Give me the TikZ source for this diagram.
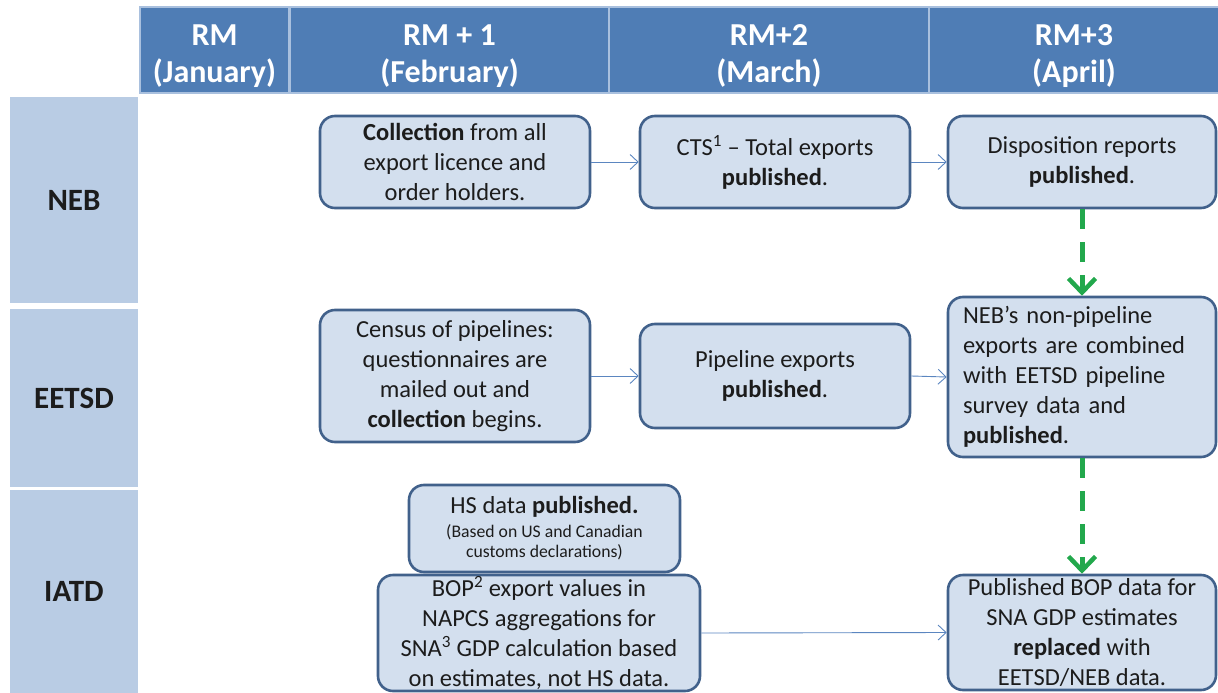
\documentclass[tikz,border=0pt]{standalone}
\usepackage{fontspec}
\setmainfont{Carlito}
\usetikzlibrary{arrows.meta}
\definecolor{hdr}{HTML}{4F7DB5}
\definecolor{hdrline}{HTML}{A9C0DE}
\definecolor{sidefill}{HTML}{B9CCE4}
\definecolor{boxfill}{HTML}{D3DFEE}
\definecolor{boxline}{HTML}{41618B}
\definecolor{txt}{HTML}{1C1C1C}
\definecolor{flow}{HTML}{5B86C0}
\definecolor{grn}{HTML}{22A84C}
\newcommand{\hstrut}{\rule{0pt}{33pt}}
\begin{document}
\begin{tikzpicture}[x=1pt,y=-1pt,
  hdrcell/.style={draw=hdrline,line width=1.5pt,fill=hdr,text=white,inner sep=0pt,
    align=center,font=\fontsize{32}{37}\selectfont\bfseries},
  sidecell/.style={fill=sidefill,text=txt,inner sep=0pt,minimum width=128pt,
    font=\fontsize{31}{34}\selectfont\bfseries},
  procbox/.style={draw=boxline,line width=2.6pt,fill=boxfill,rounded corners=15pt,
    text=txt,inner sep=0pt,align=center,font=\fontsize{24.5}{30}\selectfont},
  flowarrow/.style={draw=flow,line width=0.9pt,-{Straight Barb[length=8pt,width=15pt,line width=0.9pt]}},
  grnarrow/.style={draw=grn,line width=5pt,dash pattern=on 20pt off 13pt,
    -{Straight Barb[length=14pt,width=27pt,line width=4.5pt]}}]
\useasboundingbox (0,0) rectangle (1218,693);
% header
\node[hdrcell,minimum width=149pt,minimum height=86pt] (h0) at (214.5,50) {\hstrut RM\\(January)};
\node[hdrcell,minimum width=319pt,minimum height=86pt] (h1) at (449.5,50) {\hstrut RM + 1\\(February)};
\node[hdrcell,minimum width=320pt,minimum height=86pt] (h2) at (769,50) {\hstrut RM+2\\(March)};
\node[hdrcell,minimum width=290pt,minimum height=86pt] (h3) at (1074,50) {\hstrut RM+3\\(April)};
% side labels
\node[sidecell,minimum height=206pt] (neb) at (74,200) {NEB};
\node[sidecell,minimum height=178pt] (eetsd) at (74,398) {EETSD};
\node[sidecell,minimum height=203pt] (iatd) at (74,591.5) {IATD};
% boxes
\node[procbox,minimum width=270pt,minimum height=92pt] (b1) at (455,162)
  {\textbf{Collection} from all\\export licence and\\order holders.};
\node[procbox,minimum width=270pt,minimum height=92pt] (b2) at (775,162)
  {CTS\textsuperscript{1} -- Total exports\\\textbf{published}.};
\node[procbox,minimum width=268pt,minimum height=92pt] (b3) at (1082,162)
  {Disposition reports\\\textbf{published}.};
\node[procbox,minimum width=270pt,minimum height=132pt] (b4) at (455,376)
  {Census of pipelines:\\questionnaires are\\mailed out and\\\textbf{collection} begins.};
\node[procbox,minimum width=270pt,minimum height=104pt] (b5) at (775,376)
  {Pipeline exports\\\textbf{published}.};
\node[procbox,minimum width=268pt,minimum height=160pt,align=left,text width=238pt] (b6) at (1082,377)
  {NEB’s non-pipeline\\exports are combined\\with EETSD pipeline\\survey data and\\\textbf{published}.};
\node[procbox,minimum width=271pt,minimum height=87pt] (b7) at (544.5,528.5)
  {\rule{0pt}{20pt}HS data \textbf{published.}\\[4pt]
   {\fontsize{17.7}{20}\selectfont\begin{tabular}{@{}c@{}}(Based on US and Canadian\\customs declarations)\end{tabular}}};
\node[procbox,minimum width=322pt,minimum height=116pt] (b8) at (539,633)
  {BOP\textsuperscript{2} export values in\\NAPCS aggregations for\\SNA\textsuperscript{3} GDP calculation based\\on estimates, not HS data.};
\node[procbox,minimum width=268pt,minimum height=115pt] (b9) at (1082,632.5)
  {Published BOP data for\\SNA GDP estimates\\\textbf{replaced} with\\EETSD/NEB data.};
% flow arrows
\draw[flowarrow] (b1.east) -- (b2.west);
\draw[flowarrow] (b2.east) -- (b3.west);
\draw[flowarrow] (b4.east) -- (b5.west);
\draw[flowarrow] (b5.east) -- (b6.west);
\draw[flowarrow] (b8.east) -- (b9.west);
% green dashed arrows
\draw[grnarrow] (b3.south) -- (b6.north);
\draw[grnarrow] (b6.south) -- (b9.north);
\end{tikzpicture}
\end{document}
